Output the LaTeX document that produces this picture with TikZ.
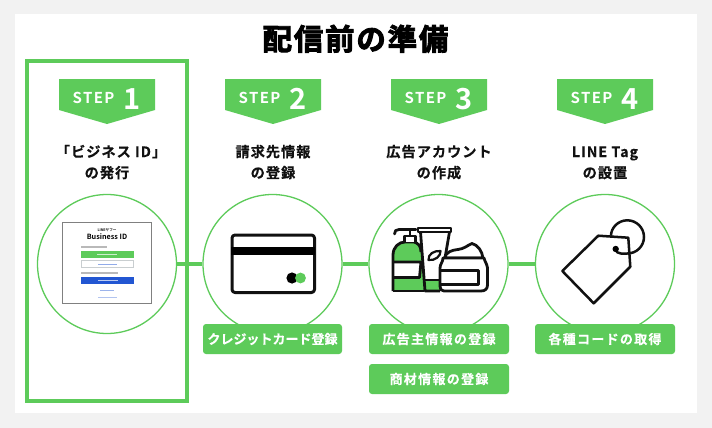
\documentclass[tikz,border=0pt]{standalone}
\usepackage{fontspec}
\setmainfont{Noto Sans CJK JP Bold}
\newfontfamily\jphead[LetterSpace=7,FakeBold=0.3]{Noto Sans CJK JP Bold}
\newfontfamily\jplabel[LetterSpace=10,FakeBold=0.3]{Noto Sans CJK JP Bold}
\newfontfamily\jptight[FakeBold=0.3]{Noto Sans CJK JP Bold}
\newfontfamily\jptitle[LetterSpace=6,FakeBold=3]{Noto Sans CJK JP Bold}
\newfontfamily\latinstep[LetterSpace=9]{Noto Sans CJK JP Bold}
\newfontfamily\latinnum{Noto Sans CJK JP Bold}
\definecolor{lgreen}{HTML}{5DCB5A}
\definecolor{ink}{HTML}{111111}
\definecolor{pagebg}{HTML}{F2F2F2}
\definecolor{lblue}{HTML}{2256D2}
\definecolor{shotgray}{HTML}{808080}
\tikzset{
  stepring/.style={circle,draw=lgreen,line width=1.3pt,fill=white,minimum size=139pt,inner sep=0pt},
  link/.style={draw=lgreen,line width=4pt},
  tagbox/.style={rounded corners=3pt,fill=lgreen,text=white,minimum height=30pt,minimum width=140pt,inner sep=0pt,font=\jplabel\fontsize{13}{13}\selectfont},
  headtext/.style={anchor=base,text=ink,font=\jphead\fontsize{14.2}{14.2}\selectfont},
  stepword/.style={anchor=base,text=white,font=\latinstep\fontsize{15}{15}\selectfont},
  stepnum/.style={anchor=base,text=white,font=\latinnum\fontsize{29}{29}\selectfont},
  iconline/.style={draw=ink,line width=2.8pt,line join=round},
  shotbar/.style={fill=gray!55,draw=none},
}
\newcommand{\stepbadge}[3]{%
  \fill[lgreen] (#1-48,79) -- (#1+48,79) -- (#1+48,110) -- (#1,124) -- (#1-48,110) -- cycle;
  \node[stepword] (#3w) at (#1-13.5,103) {STEP};
  \node[stepnum] (#3n) at (#1+25,109) {#2};
}
\begin{document}
\begin{tikzpicture}[x=1pt,y=-1pt]
\useasboundingbox (0,0) rectangle (712,428);
\fill[pagebg] (0,0) rectangle (712,428);
\fill[white] (15,14) rectangle (697,413);
\node[anchor=base,text=black,font=\jptitle\fontsize{29.5}{29.5}\selectfont] (title) at (355.5,50) {配信前の準備};
% highlight
\draw[lgreen,line width=4pt] (27,61) rectangle (187,401);
% badges
\stepbadge{107}{1}{sa}
\stepbadge{273}{2}{sb}
\stepbadge{439}{3}{sc}
\stepbadge{605}{4}{sd}
% headings
\node[headtext] (h1a) at (111,157) {「ビジネス ID」};
\node[headtext] (h1b) at (107,178) {の発行};
\node[headtext] (h2a) at (273,157) {請求先情報};
\node[headtext] (h2b) at (273,178) {の登録};
\node[headtext] (h3a) at (439,157) {広告アカウント};
\node[headtext] (h3b) at (439,178) {の作成};
\node[headtext] (h4a) at (605,157) {LINE Tag};
\node[headtext] (h4b) at (605,178) {の設置};
% rings
\node[stepring] (c1) at (107,264) {};
\node[stepring] (c2) at (272.5,264) {};
\node[stepring] (c3) at (438.5,264) {};
\node[stepring] (c4) at (605,264) {};
\draw[link] (c1) -- (c2);
\draw[link] (c2) -- (c3);
\draw[link] (c3) -- (c4);
% screenshot
\draw[shotgray,line width=1pt,fill=white] (62.5,222.5) rectangle (151.5,303);
\node[text=ink,font=\fontsize{3.6}{3.6}\selectfont,inner sep=0pt] (s0) at (107,230) {LINEヤフー};
\node[text=black,font=\fontsize{7.2}{7.2}\selectfont,inner sep=0pt] (s1) at (107,236.5) {Business ID};
\fill[shotbar] (81,246.4) rectangle (107,247.6);
\fill[lgreen] (81,251) rectangle (134,258);
\fill[white!70!lgreen] (97,254) rectangle (117,255);
\draw[black!15!cyan!10!gray!45,line width=.8pt,fill=white] (81.5,260.5) rectangle (133.5,267.5);
\fill[lblue!50] (98,263.5) rectangle (117,264.5);
\fill[shotbar] (81,272.4) rectangle (118,273.6);
\fill[lblue] (81,277) rectangle (134,284);
\fill[white!70!lblue] (98,280) rectangle (118,281);
\fill[lblue!45] (100,289.5) rectangle (114,290.5);
\fill[lblue!35] (98,297) rectangle (117,298);
% credit card
\draw[iconline,rounded corners=3pt,line width=3pt] (232,235) rectangle (314.5,292.5);
\fill[black] (231,247) rectangle (315,255);
\fill[black] (292,278) circle (5.6);
\fill[lgreen] (300.5,278) circle (5.4);
% bottle
\fill[lgreen] (393,291) -- (393,255) .. controls (393,247) and (399,242) .. (405,242) -- (414,242) .. controls (418,243) and (421,246) .. (421,252) -- (424,291) -- cycle;
\fill[white] (394,262) rectangle (420,277.5);
\draw[iconline] (393,291) -- (393,255) .. controls (393,247) and (399,242) .. (405,242) -- (414,242) .. controls (418,243) and (421,246) .. (421,252);
\draw[iconline] (393,291) -- (424,291);
\draw[iconline] (393,262) -- (421,262) -- (419.5,277.5) -- (393,277.5);
\draw[iconline,fill=white] (404.5,242) -- (404.5,236) -- (415.5,236) -- (415.5,242);
\draw[iconline] (410,236) -- (410,229.5);
\draw[iconline,line cap=round] (394.5,234) .. controls (394.5,231) and (396,229.5) .. (399,229.5) -- (416,229.5);
% tube
\fill[white] (420,232) -- (424.5,291) -- (440,291) -- (450,232) -- cycle;
\fill[lgreen] (423.5,280) -- (440,280) -- (440,291) -- (424.5,291) -- cycle;
\draw[iconline,fill=white] (418,228) rectangle (451,232);
\draw[iconline] (420.5,232) -- (425,291) -- (440,291);
\draw[iconline] (449.5,232) -- (445,258);
\draw[iconline] (423.5,280) -- (440,280);
\draw[iconline,line width=2.2pt] (428.5,260) .. controls (428,254) and (434,250.5) .. (440.5,251) .. controls (441,256) and (435,261) .. (428.5,260) -- cycle;
% jar
\draw[iconline,fill=white] (444.5,258) .. controls (446,252) and (452,250) .. (458,249.5) .. controls (464,249) and (468,245) .. (472,243.5) .. controls (478,245) and (482,251) .. (483,258) -- cycle;
\draw[iconline,fill=white] (443,258) -- (484,258) .. controls (485,262) and (487,264) .. (487.5,268) -- (487.5,285) .. controls (487.5,289) and (485,291) .. (481,291) -- (444,291) .. controls (441,291) and (440,289) .. (440,286) -- (440,268) .. controls (440,264) and (443,262) .. (443,258) -- cycle;
\draw[iconline] (440,270.5) -- (478.5,270.5) -- (478.5,284.5) -- (440,284.5);
% tag
\draw[iconline,line width=2.5pt,fill=white] (598.3,235.7) -- (628.3,237.7) -- (630.3,266.7) -- (593.7,303.3) -- (562.3,271) -- cycle;
\draw[iconline,line width=2.5pt] (611,235.7) .. controls (611,227.8) and (618.1,220.3) .. (627.3,220.3) .. controls (636.5,220.3) and (644,227.8) .. (644,237) .. controls (644,246.2) and (636.5,253.5) .. (627.3,253.5) -- (621,253.5) .. controls (618,253.5) and (616,252) .. (615.7,249);
\fill[black] (615.7,249) circle (3.2);
% tags
\node[tagbox,font=\jptight\fontsize{13}{13}\selectfont,minimum width=139pt] (t2) at (272.5,339) {クレジットカード登録};
\node[tagbox] (t3a) at (439,339) {広告主情報の登録};
\node[tagbox] (t3b) at (439,379) {商材情報の登録};
\node[tagbox] (t4) at (605,339) {各種コードの取得};
\end{tikzpicture}
\end{document}
